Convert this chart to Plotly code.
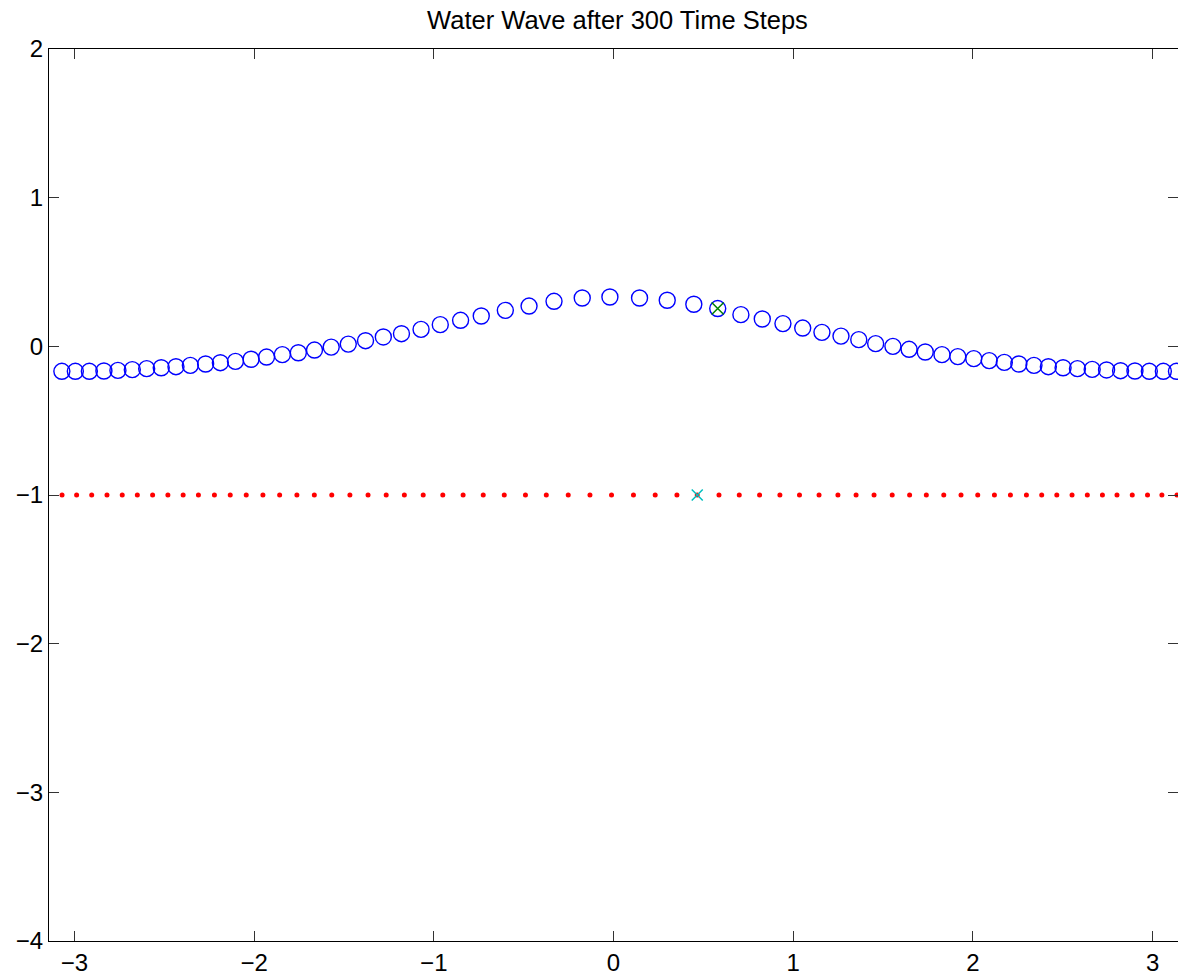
import math
import plotly.graph_objects as go

# Surface particles (blue circles)
surf_x = [-3.070, -2.995, -2.917, -2.836, -2.758, -2.678, -2.598, -2.517, -2.435, -2.355,
          -2.270, -2.188, -2.104, -2.017, -1.931, -1.843, -1.754, -1.664, -1.571, -1.476,
          -1.380, -1.281, -1.180, -1.071, -0.964, -0.851, -0.736, -0.602, -0.470, -0.331,
          -0.174, -0.020, 0.145, 0.299, 0.447, 0.580, 0.709, 0.828, 0.943, 1.053,
          1.160, 1.266, 1.365, 1.459, 1.555, 1.645, 1.735, 1.828, 1.916, 2.005,
          2.091, 2.175, 2.256, 2.340, 2.420, 2.502, 2.582, 2.664, 2.744, 2.822,
          2.902, 2.982, 3.060, 3.133]
surf_y = [-0.168, -0.168, -0.168, -0.166, -0.162, -0.157, -0.150, -0.144, -0.137, -0.128,
          -0.119, -0.110, -0.101, -0.087, -0.072, -0.056, -0.043, -0.025, -0.005, 0.015,
          0.038, 0.063, 0.085, 0.114, 0.146, 0.175, 0.204, 0.242, 0.271, 0.303,
          0.325, 0.332, 0.325, 0.310, 0.283, 0.254, 0.213, 0.184, 0.153, 0.123,
          0.094, 0.069, 0.045, 0.018, 0.000, -0.020, -0.038, -0.056, -0.069, -0.083,
          -0.096, -0.108, -0.119, -0.128, -0.137, -0.144, -0.150, -0.155, -0.159, -0.164,
          -0.166, -0.168, -0.168, -0.168]

# Bottom particles (red dots)
bot_x = [-3.069, -2.988, -2.904, -2.819, -2.734, -2.650, -2.565, -2.480, -2.395, -2.310,
         -2.221, -2.133, -2.044, -1.951, -1.858, -1.762, -1.665, -1.568, -1.467, -1.366,
         -1.265, -1.164, -1.059, -0.950, -0.837, -0.725, -0.608, -0.490, -0.374, -0.252,
         -0.131, -0.011, 0.111, 0.232, 0.353, 0.466, 0.587, 0.700, 0.813, 0.926,
         1.035, 1.144, 1.249, 1.350, 1.450, 1.551, 1.648, 1.741, 1.838, 1.934,
         2.027, 2.120, 2.209, 2.298, 2.383, 2.467, 2.552, 2.637, 2.721, 2.802,
         2.887, 2.972, 3.052, 3.136]
bot_y = [-1.0] * len(bot_x)

tracked = 35  # index of the highlighted particle

x_ticks = [-3, -2, -1, 0, 1, 2, 3]
y_ticks = [-4, -3, -2, -1, 0, 1, 2]
title = "Water Wave after 300 Time Steps"

FONT = "Liberation Sans, Arial, Helvetica, sans-serif"

W, H = 1178, 978

fig = go.Figure()
fig.add_trace(go.Scatter(x=surf_x, y=surf_y, mode="markers",
                         marker=dict(symbol="circle-open", size=16, color="#0000ff",
                                     line=dict(width=1.4, color="#0000ff")),
                         showlegend=False))
fig.add_trace(go.Scatter(x=bot_x, y=bot_y, mode="markers",
                         marker=dict(symbol="circle", size=5, color="#ff0000"),
                         showlegend=False))
fig.add_trace(go.Scatter(x=[surf_x[tracked]], y=[surf_y[tracked]], mode="markers",
                         marker=dict(symbol="x-thin-open", size=12, color="#008000",
                                     line=dict(width=1.5, color="#008000")),
                         showlegend=False))
fig.add_trace(go.Scatter(x=[bot_x[tracked]], y=[bot_y[tracked]], mode="markers",
                         marker=dict(symbol="x-thin-open", size=11, color="#00bfbf",
                                     line=dict(width=1.5, color="#00bfbf")),
                         showlegend=False))
# invisible trace on secondary y axis for right-side ticks
fig.add_trace(go.Scatter(x=[0], y=[0], yaxis="y2", mode="markers",
                         marker=dict(opacity=0), hoverinfo="skip", showlegend=False))

fig.update_layout(
    width=W, height=H,
    paper_bgcolor="white", plot_bgcolor="white",
    margin=dict(l=49, r=0, t=49, b=37, pad=0),
    font=dict(family=FONT, size=24, color="black"),
    title=dict(text=title, x=0.5 + 4 / 1129, xref="paper", xanchor="center",
               y=1 - 20 / H, yanchor="middle",
               font=dict(family=FONT, size=25.5, color="black")),
    xaxis=dict(range=[-math.pi, math.pi], tickmode="array", tickvals=x_ticks,
               ticks="inside", ticklen=10, tickwidth=1, tickcolor="#333",
               showline=True, linecolor="black", linewidth=1.3, mirror="ticks",
               showgrid=False, zeroline=False,
               tickfont=dict(family=FONT, size=24, color="black")),
    yaxis=dict(range=[-4, 2], tickmode="array", tickvals=y_ticks,
               ticks="inside", ticklen=10, tickwidth=1, tickcolor="#333",
               showline=True, linecolor="black", linewidth=1.3, mirror=False,
               showgrid=False, zeroline=False,
               tickfont=dict(family=FONT, size=24, color="black")),
    yaxis2=dict(range=[-4, 2], tickmode="array", tickvals=y_ticks, overlaying="y",
                side="right", ticks="inside", ticklen=10, tickwidth=1, tickcolor="#333",
                showline=False, showgrid=False, zeroline=False, showticklabels=False),
)

fig.write_html("out.html",
               config={"displayModeBar": False},
               post_script="document.body.style.margin='0';"
                           "document.body.style.overflow='hidden';")
